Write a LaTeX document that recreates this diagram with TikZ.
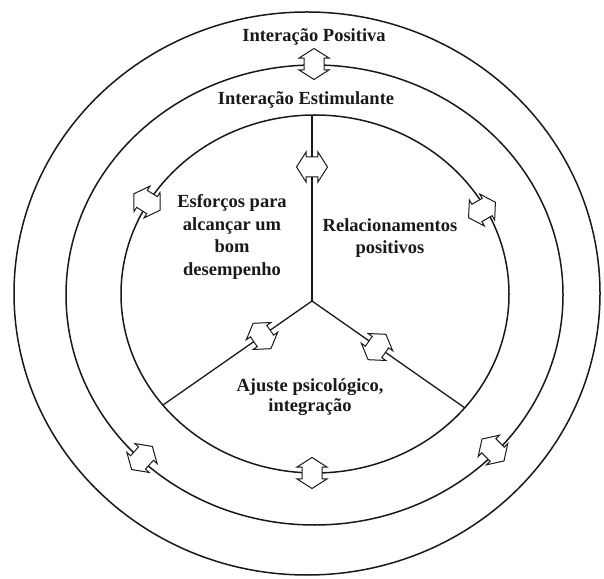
\documentclass[tikz,border=0pt]{standalone}
\usepackage{fontspec}
\setmainfont{Liberation Serif}
\usetikzlibrary{shapes.arrows}

\tikzset{
  ring/.style={draw=black!90, line width=1.5pt},
  spoke/.style={draw=black!90, line width=1.3pt},
  dblarrow/.style={shape=double arrow, draw=black!90, fill=white, line width=1pt,
    inner xsep=4pt, inner ysep=9.5pt, minimum height=31pt,
    double arrow head extend=5pt, double arrow tip angle=115},
  label/.style={align=center, inner sep=0pt, text=black!90,
    font=\fontsize{18.5}{22.5}\selectfont\bfseries},
}

\begin{document}
\begin{tikzpicture}[x=1pt, y=1pt]
  \useasboundingbox (0,0) rectangle (604,578);

  % three concentric rings
  \draw[ring] (307,284.5) ellipse [x radius=293, y radius=281.5];
  \draw[ring] (314.5,283) ellipse [x radius=248.5, y radius=230];
  \draw[ring] (315,284) ellipse [x radius=194, y radius=179];

  % the Y dividing the inner disc into three sectors
  \coordinate (hub) at (312,277);
  \coordinate (top) at (312,463);
  \coordinate (left) at (163,173);
  \coordinate (right) at (465,170);
  \draw[spoke] (hub) -- (top);
  \draw[spoke] (hub) -- (left);
  \draw[spoke] (hub) -- (right);

  % two-way arrows
  \node[dblarrow, rotate=90]   (aTop)   at (314,514) {};
  \node[dblarrow, rotate=0]    (aSpoke) at (312,411) {};
  \node[dblarrow, rotate=148]  (aUL)    at (147,376) {};
  \node[dblarrow, rotate=30]   (aUR)    at (482,368) {};
  \node[dblarrow, rotate=90]   (aBot)   at (312,105) {};
  \node[dblarrow, rotate=125]  (aYL)    at (262,242) {};
  \node[dblarrow, rotate=55]   (aYR)    at (377,231) {};
  \node[dblarrow, rotate=228]  (aLL)    at (142,120) {};
  \node[dblarrow, rotate=-45]  (aLR)    at (493,128) {};

  % labels
  \node[label] (tPos)  at (314,541) {Interação Positiva};
  \node[label] (tEst)  at (306,478) {Interação Estimulante};
  \node[label] (tEsf)  at (232,341) {Esforços para\\alcançar um\\bom\\desempenho};
  \node[label] (tRel)  at (390,340) {Relacionamentos\\positivos};
  \node[label, font=\fontsize{18.5}{20.5}\selectfont\bfseries] (tAju) at (310,181) {Ajuste psicológico,\\integração};
\end{tikzpicture}
\end{document}
